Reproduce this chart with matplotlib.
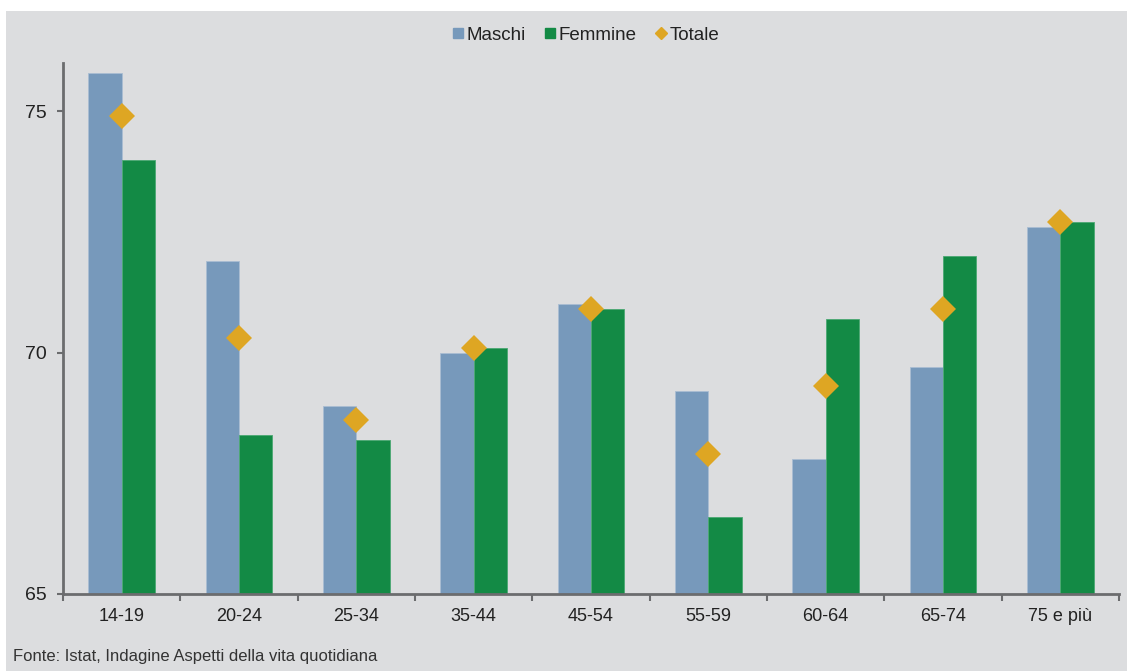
import matplotlib
matplotlib.use("Agg")
import matplotlib.pyplot as plt
import numpy as np
from matplotlib.patches import Rectangle
from matplotlib.lines import Line2D

categories = ["14-19", "20-24", "25-34", "35-44", "45-54", "55-59", "60-64", "65-74", "75 e più"]
maschi = [75.8, 71.9, 68.9, 70.0, 71.0, 69.2, 67.8, 69.7, 72.6]
femmine = [74.0, 68.3, 68.2, 70.1, 70.9, 66.6, 70.7, 72.0, 72.7]
totale = [74.9, 70.3, 68.6, 70.1, 70.9, 67.9, 69.3, 70.9, 72.7]
yticks = [65, 70, 75]

c_m = "#7799bb"
c_f = "#138a45"
c_t = "#dea623"
bg = "#dcdddf"
axc = "#6b6c6e"

plt.rcParams['font.family'] = ['Liberation Sans', 'DejaVu Sans']

fig = plt.figure(figsize=(11.27, 6.71), dpi=100)
fig.patch.set_facecolor("white")
fig.patches.append(Rectangle((6/1127, 0), 1 - 6/1127, 1 - 11/671, transform=fig.transFigure,
                             facecolor=bg, edgecolor="none", zorder=-10))

ax = fig.add_axes([63/1127, 1 - 594/671, (1119 - 63)/1127, (594 - 63)/671])
ax.set_facecolor(bg)
ax.patch.set_alpha(0)

x = np.arange(len(categories))
w = 0.285
ax.bar(x - w/2, [m - 65 for m in maschi], w, bottom=65, color=c_m, edgecolor="#a9bdd2", linewidth=0.6, zorder=2)
ax.bar(x + w/2, [f - 65 for f in femmine], w, bottom=65, color=c_f, edgecolor="#4aa872", linewidth=0.6, zorder=2)
ax.plot(x, totale, linestyle="none", marker="D", markersize=13.5, color=c_t, markeredgewidth=0, zorder=3)

ax.set_xlim(-0.5, len(categories) - 0.5)
ax.set_ylim(65, 76)
ax.set_yticks(yticks)
ax.set_yticklabels([str(v) for v in yticks], fontsize=14, color="#222222")
ax.set_xticks(x)
ax.set_xticklabels(categories, fontsize=13, color="#222222")
ax.set_xticks(np.arange(-0.5, len(categories)), minor=True)
ax.tick_params(axis="x", which="major", length=0, pad=10)
ax.tick_params(axis="x", which="minor", length=5, width=1.5, color=axc, direction="out")
ax.tick_params(axis="y", length=4.5, width=1.5, color=axc, direction="out", pad=7)

for s in ["top", "right"]:
    ax.spines[s].set_visible(False)
for s in ["left", "bottom"]:
    ax.spines[s].set_color(axc)
    ax.spines[s].set_linewidth(2)

handles = [Line2D([], [], linestyle="none", marker="s", markersize=7.5, color=c_m),
           Line2D([], [], linestyle="none", marker="s", markersize=7.5, color=c_f),
           Line2D([], [], linestyle="none", marker="D", markersize=6, color=c_t)]
fig.legend(handles, ["Maschi", "Femmine", "Totale"], loc="center", bbox_to_anchor=(585/1127, 1 - 35/671),
           ncol=3, frameon=False, fontsize=13.5, handletextpad=0.05, columnspacing=0.9, handlelength=0.8,
           labelcolor="#222222")

fig.text(13/1127, 1 - 657/671, "Fonte: Istat, Indagine Aspetti della vita quotidiana",
         fontsize=12, color="#333333", va="center", ha="left")

fig.savefig("out.png", dpi=100)
